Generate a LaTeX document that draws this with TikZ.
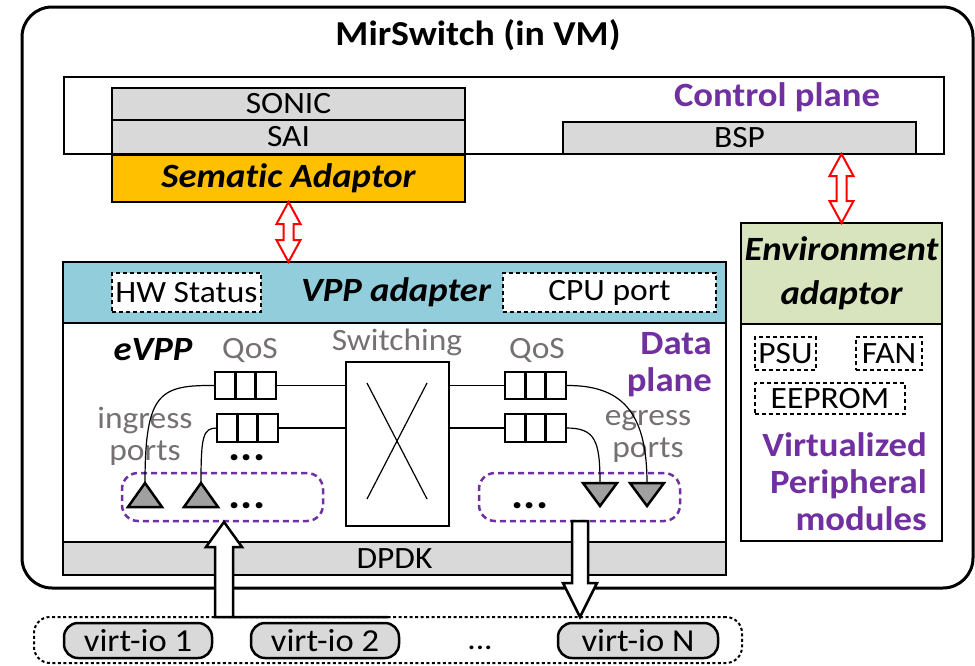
\documentclass[tikz,border=0pt]{standalone}
\usepackage{fontspec}
\setmainfont[FakeStretch=1.08, Ligatures={NoCommon}]{Carlito}
\usetikzlibrary{calc}
\definecolor{vpurple}{RGB}{112,48,160}
\definecolor{vgray}{RGB}{118,113,113}
\definecolor{lgray}{RGB}{217,217,217}
\definecolor{vorange}{RGB}{255,192,0}
\definecolor{vblue}{RGB}{146,205,220}
\definecolor{vgreen}{RGB}{215,228,189}
\definecolor{tgray}{RGB}{160,160,160}
% optional style, name, x1, y1, x2, y2, text
\newcommand\pxbox[7][]{%
  \node[#1, anchor=north west, minimum width={(#5-#3)*1pt}, minimum height={(#6-#4)*1pt}] (#2) at (#3,#4) {#7};}
\tikzset{
  box/.style={draw, line width=2.5pt, inner sep=0pt, outer sep=0pt},
  graybox/.style={box, fill=lgray},
  dbox/.style={draw, line width=2.2pt, dash pattern=on 4pt off 3pt, fill=white, inner sep=0pt, outer sep=0pt},
  pgroup/.style={draw=vpurple, line width=2.5pt, dash pattern=on 6pt off 4pt, rounded corners=16pt, inner sep=0pt, outer sep=0pt},
  conn/.style={draw, line width=1.2pt},
  tri/.style={draw, line width=2.5pt, fill=tgray, line join=miter},
  blockarrow/.style={draw, line width=2.5pt, fill=white, line join=miter},
  redarrow/.style={draw=red, line width=2pt, fill=white, line join=miter},
  txt/.style={font=\fontsize{31}{37}\selectfont, inner sep=0pt},
  gtxt/.style={font=\fontsize{31}{32}\selectfont, text=vgray, inner sep=0pt, align=center},
  btxt/.style={font=\fontsize{34}{40}\selectfont\bfseries, inner sep=0pt},
  bitxt/.style={font=\fontsize{34}{40}\selectfont\bfseries\itshape, inner sep=0pt},
  ptxt/.style={font=\fontsize{34}{37}\selectfont\bfseries, text=vpurple, inner sep=0pt},
  dots/.style={font=\fontsize{42}{42}\selectfont\bfseries, inner sep=0pt},
}
\begin{document}
\begin{tikzpicture}[x=1pt,y=-1pt]
\useasboundingbox (0,0) rectangle (975,665);

% outer VM box
\pxbox[box, line width=3pt, rounded corners=30pt]{mir}{22}{7}{973}{588}{}
\node[font=\fontsize{35}{40}\selectfont\bfseries, inner sep=0pt] (title) at (478,35) {MirSwitch (in VM)};

% control plane
\pxbox[box]{cp}{64}{77}{944}{154}{}
\node[ptxt] (cplabel) at (777,97) {Control plane};
\pxbox[graybox, txt]{sonic}{112}{88}{465}{120}{SONIC}
\pxbox[graybox, txt]{sai}{112}{120}{465}{154}{SAI}
\pxbox[graybox, txt]{bsp}{563}{122}{916}{154}{BSP}
\pxbox[box, fill=vorange, bitxt]{sem}{112}{155}{465}{202}{Sematic Adaptor}

% data plane
\pxbox[box, fill=vblue]{vpp}{63}{262}{726}{323}{}
\node[bitxt] (vpplabel) at (396,292) {VPP adapter};
\pxbox[dbox, txt]{hw}{112}{273}{261}{312}{HW Status}
\pxbox[dbox, txt]{cpu}{503}{273}{716}{312}{CPU port}
\pxbox[box, fill=white]{dp}{63}{323}{726}{542}{}
\pxbox[graybox, txt]{dpdk}{63}{542}{726}{575}{DPDK}

\node[bitxt] (evpp) at (153,350) {eVPP};
\node[gtxt] (qosl) at (250,350) {QoS};
\node[gtxt] (qosr) at (537,350) {QoS};
\node[gtxt] (swl) at (397,342) {Switching};
\node[ptxt, align=right, anchor=east] (dplabel) at (712,365) {Data\\plane};
\node[gtxt] (ing) at (145,436) {ingress\\ports};
\node[gtxt] (egr) at (648,436) {egress\\ports};

% switching fabric
\pxbox[box]{sw}{346}{362}{449}{526}{}
\draw[conn] (367,383) -- (427,499);
\draw[conn] (427,383) -- (367,499);

% queues
\pxbox[box]{qa}{215}{372}{276}{399}{}
\pxbox[box]{qb}{217}{414}{278}{442}{}
\pxbox[box]{qc}{505}{372}{566}{399}{}
\pxbox[box]{qd}{505}{414}{566}{442}{}
\foreach \q in {qa,qb,qc,qd}{
  \draw[line width=2.5pt] ($(\q.north west)!1/3!(\q.north east)$) -- ($(\q.south west)!1/3!(\q.south east)$);
  \draw[line width=2.5pt] ($(\q.north west)!2/3!(\q.north east)$) -- ($(\q.south west)!2/3!(\q.south east)$);
}
\node[dots] (qdots) at (247,458) {...};

% port groups
\pxbox[pgroup]{ingrp}{122}{473}{323}{521}{}
\pxbox[pgroup]{egrp}{479}{473}{680}{521}{}
\node[dots] (indots) at (247,506) {...};
\node[dots] (egdots) at (530,506) {...};

% ingress triangles (apex up)
\coordinate (t1) at (145,483);
\coordinate (t2) at (201,483);
\draw[tri] (t1) -- ++(17,24) -- ++(-34,0) -- cycle;
\draw[tri] (t2) -- ++(17,24) -- ++(-34,0) -- cycle;
% egress triangles (apex down)
\coordinate (t3) at (600,483);
\coordinate (t4) at (647,483);
\draw[tri] (t3) ++(-17,0) -- ++(34,0) -- ++(-17,23) -- cycle;
\draw[tri] (t4) ++(-17,0) -- ++(34,0) -- ++(-17,23) -- cycle;

% connectors
\draw[conn] (qa.east) -- (qa.east -| sw.west);
\draw[conn] (qb.east) -- (qb.east -| sw.west);
\draw[conn] (qc.west) -- (qc.west -| sw.east);
\draw[conn] (qd.west) -- (qd.west -| sw.east);
\draw[conn] (qa.west) .. controls (160,385) and (145,392) .. (t1);
\draw[conn] (qb.west) .. controls (203,428) and (201,436) .. (t2);
\draw[conn] (qc.east) .. controls (620,385) and (647,410) .. (t4);
\draw[conn] (qd.east) .. controls (595,428) and (600,440) .. (t3);

% environment adaptor
\pxbox[box, fill=vgreen, bitxt, align=center, font=\fontsize{34}{44}\selectfont\bfseries\itshape]{env}{741}{223}{942}{324}{Environment\\adaptor}
\pxbox[box, fill=white]{periph}{741}{324}{942}{541}{}
\pxbox[dbox, txt]{psu}{755}{337}{816}{370}{PSU}
\pxbox[dbox, txt]{fan}{856}{337}{922}{370}{FAN}
\pxbox[dbox, txt]{eeprom}{755}{383}{905}{414}{EEPROM}
\node[ptxt, align=right, anchor=east] (vpm) at (927,482) {Virtualized\\Peripheral\\modules};

% red double arrows
\draw[redarrow] let \p1=(sem.south), \p2=(vpp.north) in
  (\x1,\y1) -- (\x1+12pt,\y1-22pt) -- (\x1+5pt,\y1-22pt) -- (\x1+5pt,\y2+22pt) -- (\x1+12pt,\y2+22pt)
  -- (\x1,\y2) -- (\x1-12pt,\y2+22pt) -- (\x1-5pt,\y2+22pt) -- (\x1-5pt,\y1-22pt) -- (\x1-12pt,\y1-22pt) -- cycle;
\draw[redarrow] let \p1=(env.north), \p2=(bsp.south) in
  (\x1,\y2) -- (\x1+12pt,\y2-22pt) -- (\x1+5pt,\y2-22pt) -- (\x1+5pt,\y1+22pt) -- (\x1+12pt,\y1+22pt)
  -- (\x1,\y1) -- (\x1-12pt,\y1+22pt) -- (\x1-5pt,\y1+22pt) -- (\x1-5pt,\y2-22pt) -- (\x1-12pt,\y2-22pt) -- cycle;

% virt-io group
\pxbox[draw, line width=2pt, dash pattern=on 3pt off 2.5pt, rounded corners=16pt, inner sep=0pt, outer sep=0pt]{vio}{34}{617}{742}{663}{}
\pxbox[graybox, rounded corners=14pt, font=\fontsize{32}{38}\selectfont]{v1}{64}{623}{212}{658}{virt-io 1}
\pxbox[graybox, rounded corners=14pt, font=\fontsize{32}{38}\selectfont]{v2}{251}{623}{399}{658}{virt-io 2}
\pxbox[graybox, rounded corners=14pt, font=\fontsize{32}{38}\selectfont]{vn}{558}{623}{718}{658}{virt-io N}
\node[txt] (vdots) at (480,648) {...};

% white block arrows
\coordinate (upTip) at (224,522);
\draw[blockarrow] (upTip) -- ++(18,25) -- ++(-9,0) |- (vio.north) -| ($(upTip)+(-9,25)$) -- ++(-9,0) -- cycle;
\coordinate (dnTip) at (580,617);
\draw[blockarrow] (dnTip) -- ++(17,-34) -- ++(-9,0) -- ($(dnTip)+(8,-96)$) -- ++(-16,0) -- ($(dnTip)+(-8,-34)$) -- ++(-9,0) -- cycle;
\end{tikzpicture}
\end{document}
